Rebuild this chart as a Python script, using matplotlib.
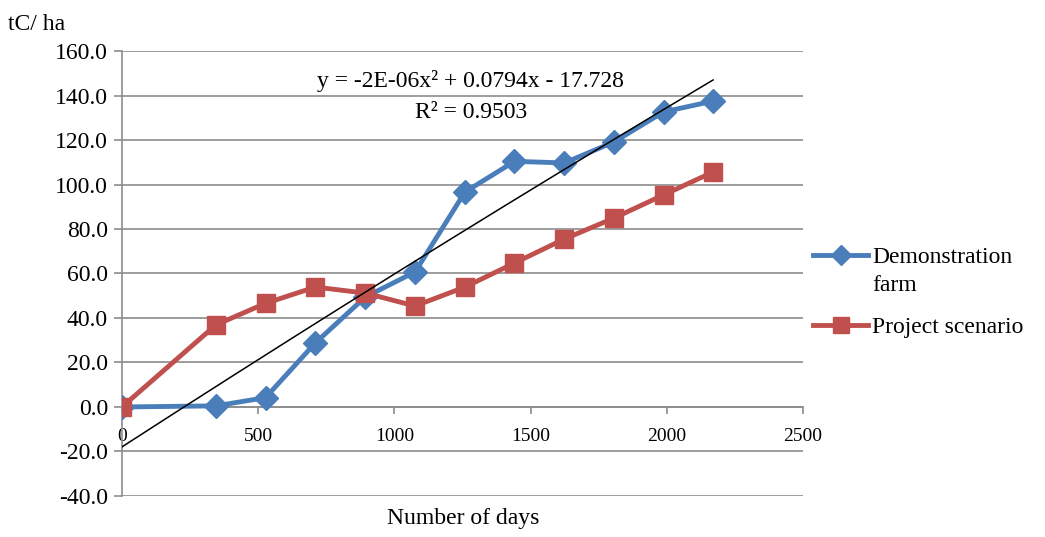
import numpy as np
import matplotlib
matplotlib.use('Agg')
import matplotlib.pyplot as plt
from matplotlib.lines import Line2D

plt.rcParams['font.family'] = ['Liberation Serif', 'DejaVu Serif']

# days since start
days = [0, 345, 527, 710, 893, 1076, 1259, 1441, 1624, 1806, 1988, 2170]
demo_farm = [0.0, 0.5, 4.2, 28.8, 49.4, 60.7, 96.6, 110.4, 109.7, 119.1, 132.6, 137.5]
project = [0.0, 36.9, 46.6, 53.9, 51.2, 45.4, 53.9, 64.7, 75.5, 84.9, 95.3, 105.6]
x_ticks = [0, 500, 1000, 1500, 2000, 2500]
y_ticks = [-40, -20, 0, 20, 40, 60, 80, 100, 120, 140, 160]

blue = '#4a7ebb'
red = '#c0504d'
grid_col = '#8c8c8c'
fs = 17

fig = plt.figure(figsize=(10.45, 5.37), dpi=100)
ax = fig.add_axes([0.1167, 0.0764, 0.6517, 0.8286])

# x axis crosses at y = 0 (set before styling ticks, it resets them)
for s in ['top', 'right']:
    ax.spines[s].set_visible(False)
ax.spines['bottom'].set_position(('data', 0))
ax.spines['bottom'].set_color(grid_col)
ax.spines['bottom'].set_linewidth(1.2)
ax.spines['left'].set_color(grid_col)
ax.spines['left'].set_linewidth(1.2)

ax.set_xlim(0, 2500)
ax.set_ylim(-40, 160)
ax.set_yticks(y_ticks)
ax.set_yticklabels([f'{v:.1f}' for v in y_ticks])
ax.set_xticks(x_ticks)
ax.set_xticklabels([str(v) for v in x_ticks])
ax.tick_params(axis='y', length=6, color=grid_col, width=1.2, pad=4, labelsize=fs)
ax.tick_params(axis='x', length=5, color=grid_col, width=1.2, pad=10, labelsize=14)
ax.grid(axis='y', color=grid_col, linewidth=1.2)
ax.set_axisbelow(True)

ax.plot(days, demo_farm, color=blue, linewidth=3.5, marker='D', markersize=12, zorder=3)
ax.plot(days, project, color=red, linewidth=3.5, marker='s', markersize=13.5, zorder=3)

# polynomial trendline of the demonstration farm series
coef = np.polyfit(days, demo_farm, 2)
xs = np.linspace(0, days[-1], 200)
ax.plot(xs, np.polyval(coef, xs), color='black', linewidth=1.1, zorder=4)

ax.text(1280, 146.5, 'y = -2E-06x² + 0.0794x - 17.728', ha='center', va='center', fontsize=fs)
ax.text(1280, 132.5, 'R² = 0.9503', ha='center', va='center', fontsize=fs)

fig.text(0.008, 0.955, 'tC/ ha', fontsize=fs, ha='left', va='center')
fig.text(0.443, 0.035, 'Number of days', fontsize=fs, ha='center', va='center')

# legend drawn by hand so the handle sits on the first text line
W, H = 1045, 537
legend_rows = [(255, blue, 'D', 10, 'Demonstration\nfarm'),
               (325, red, 's', 12, 'Project scenario')]
for ypx, col, mk, ms, lab in legend_rows:
    yf = 1 - ypx / H
    fig.add_artist(Line2D([813 / W, 868 / W], [yf, yf], color=col, linewidth=3.5))
    fig.add_artist(Line2D([840.5 / W], [yf], color=col, marker=mk, markersize=ms))
    fig.text(872 / W, yf + 8 / H, lab, fontsize=fs, ha='left', va='top', linespacing=1.45)

fig.savefig('out.png', dpi=100)
